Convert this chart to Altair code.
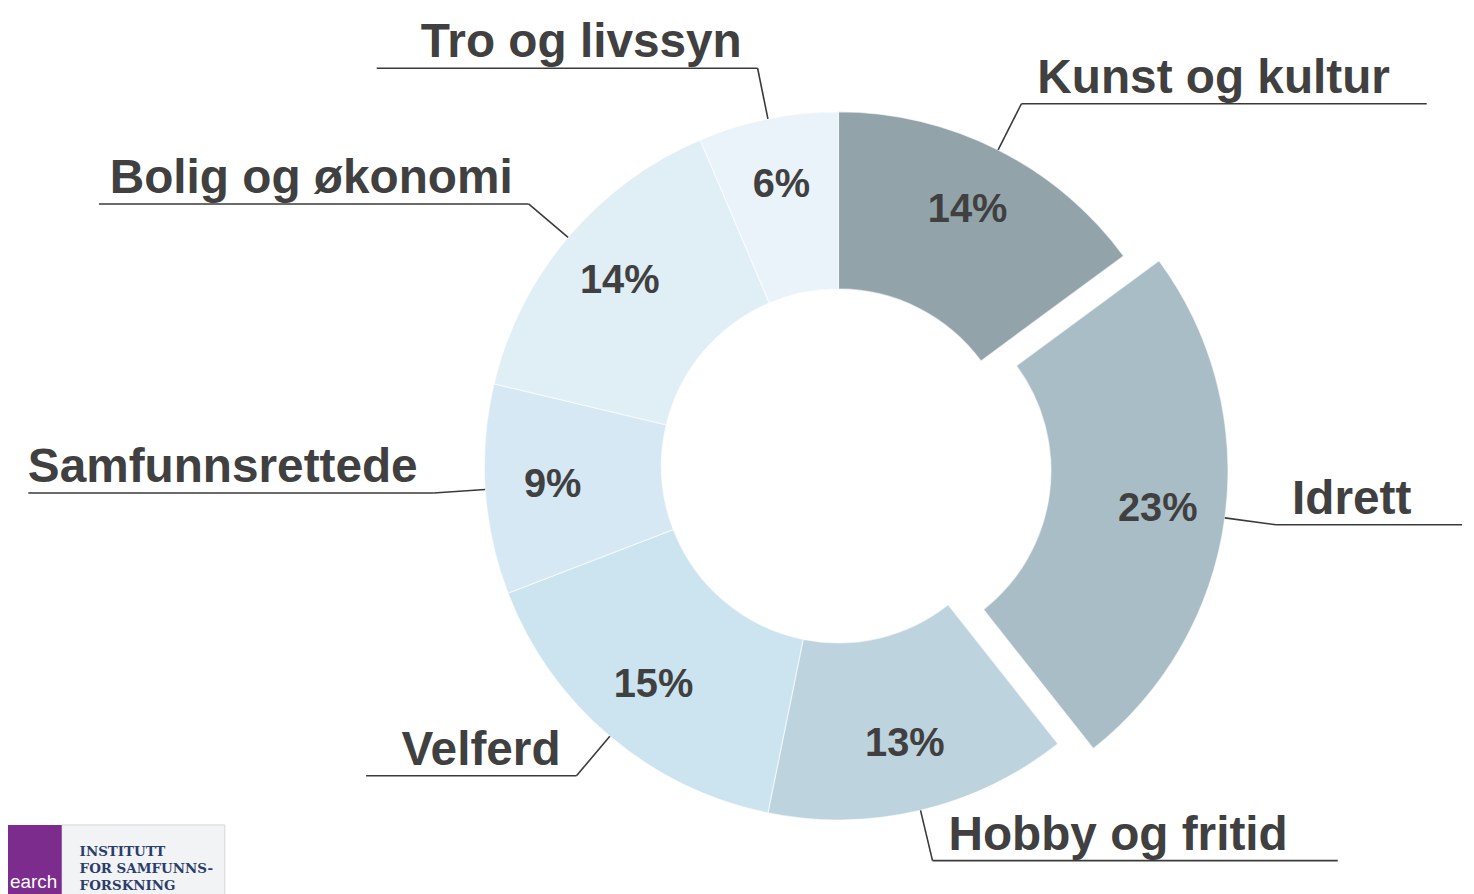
import altair as alt
import pandas as pd

# ---- data ----
categories = ["Kunst og kultur", "Idrett", "Hobby og fritid", "Velferd",
              "Samfunnsrettede", "Bolig og økonomi", "Tro og livssyn"]
values = [14, 23, 13, 15, 9, 14, 6]
palette = ["#92a3aa", "#a9bdc6", "#bdd3de", "#cce4f0", "#d6e8f3", "#e0eef6", "#e9f3f9"]
exploded = "Idrett"

logo_lines = ["INSTITUTT", "FOR SAMFUNNS-", "FORSKNING"]

# ---- layout / style constants ----
W, H = 1466, 886
CX, CY = 835, 458          # donut centre inside the plot area
R_OUT, R_IN = 356, 178
R_LABEL = 288
R_ELBOW = 408
EXPLODE = 36
FONT = "Liberation Sans"
TXT = "#404040"

df = pd.DataFrame({"cat": categories, "value": values, "order": list(range(len(categories)))})

xs = alt.Scale(domain=[-CX, W - CX], nice=False, zero=False)
ys = alt.Scale(domain=[-CY, H - CY], nice=False, zero=False, reverse=True)

base = (
    alt.Chart(df)
    .transform_joinaggregate(total="sum(value)")
    .transform_window(cum="sum(value)", sort=[alt.SortField("order")], frame=[None, 0])
    .transform_calculate(
        t0="2*PI*(datum.cum - datum.value)/datum.total",
        t1="2*PI*datum.cum/datum.total",
    )
    .transform_calculate(mid="(datum.t0 + datum.t1)/2")
    .transform_calculate(shift=f"datum.cat === '{exploded}' ? {EXPLODE} : 0")
    .transform_calculate(
        cx="datum.shift*sin(datum.mid)",
        cy="-datum.shift*cos(datum.mid)",
        side="sin(datum.mid) >= 0 ? 1 : -1",
    )
    .transform_calculate(
        sx=f"datum.cx + {R_OUT}*sin(datum.mid)",
        sy=f"datum.cy - {R_OUT}*cos(datum.mid)",
        ex=f"datum.cx + {R_ELBOW}*sin(datum.mid)",
        ey=f"datum.cy - {R_ELBOW}*cos(datum.mid)",
        lx=f"datum.cx + {R_LABEL}*sin(datum.mid)",
        ly=f"datum.cy - {R_LABEL}*cos(datum.mid)",
        pct="datum.value + '%'",
    )
    .transform_calculate(
        hx="datum.ex + datum.side*(length(datum.cat)*24.5 + 40)",
        tx="datum.ex + datum.side*16",
        ty="datum.ey - 11",
    )
)

arcs = base.mark_arc(outerRadius=R_OUT, innerRadius=R_IN, stroke="white",
                     strokeWidth=1.2, strokeOpacity=0.55).encode(
    x=alt.X("cx:Q", scale=xs, axis=None),
    y=alt.Y("cy:Q", scale=ys, axis=None),
    theta=alt.Theta("t0:Q", scale=None),
    theta2="t1:Q",
    color=alt.Color("cat:N", scale=alt.Scale(domain=categories, range=palette), legend=None),
)

pct_labels = base.mark_text(font=FONT, fontSize=40, fontWeight="bold", color=TXT,
                            align="center", baseline="middle").encode(
    x=alt.X("lx:Q", scale=xs, axis=None),
    y=alt.Y("ly:Q", scale=ys, axis=None),
    text="pct:N",
)

leader_diag = base.mark_rule(color="#3a3a3a", strokeWidth=1.6).encode(
    x=alt.X("sx:Q", scale=xs, axis=None),
    y=alt.Y("sy:Q", scale=ys, axis=None),
    x2="ex:Q",
    y2="ey:Q",
)

leader_hor = base.mark_rule(color="#3a3a3a", strokeWidth=1.6).encode(
    x=alt.X("ex:Q", scale=xs, axis=None),
    y=alt.Y("ey:Q", scale=ys, axis=None),
    x2="hx:Q",
    y2="ey:Q",
)

name_right = base.transform_filter("datum.side > 0").mark_text(
    font=FONT, fontSize=48, fontWeight="bold", color=TXT, align="left", baseline="alphabetic"
).encode(
    x=alt.X("tx:Q", scale=xs, axis=None),
    y=alt.Y("ty:Q", scale=ys, axis=None),
    text="cat:N",
)

name_left = base.transform_filter("datum.side < 0").mark_text(
    font=FONT, fontSize=48, fontWeight="bold", color=TXT, align="right", baseline="alphabetic"
).encode(
    x=alt.X("tx:Q", scale=xs, axis=None),
    y=alt.Y("ty:Q", scale=ys, axis=None),
    text="cat:N",
)

# ---- small institute logo, bottom left ----
one = pd.DataFrame({"k": [0]})
logo_box = alt.Chart(one).mark_rect(fill="#f2f3f5", stroke="#d5d7da", strokeWidth=1).encode(
    x=alt.value(54), x2=alt.value(218), y=alt.value(819), y2=alt.value(892))
logo_purple = alt.Chart(one).mark_rect(fill="#7b2c8c").encode(
    x=alt.value(0), x2=alt.value(54), y=alt.value(819), y2=alt.value(892))
logo_word = alt.Chart(one).mark_text(text="earch", font="Liberation Sans", fontSize=19,
                                     color="white", align="left", baseline="alphabetic").encode(
    x=alt.value(2), y=alt.value(882))
logo_text = alt.Chart(one).mark_text(text=logo_lines, font="DejaVu Serif", fontSize=13.5,
                                     fontWeight="bold", color="#2b3d6b", align="left",
                                     baseline="alphabetic", lineHeight=17).encode(
    x=alt.value(72), y=alt.value(850))

chart = (
    alt.layer(arcs, pct_labels, leader_diag, leader_hor, name_right, name_left,
              logo_box, logo_purple, logo_word, logo_text)
    .properties(width=W, height=H, padding=0, autosize=alt.AutoSizeParams(type="none"),
                background="white")
    .configure_view(stroke=None)
)

chart.save("out.html", embed_options={"renderer": "svg", "actions": False})
